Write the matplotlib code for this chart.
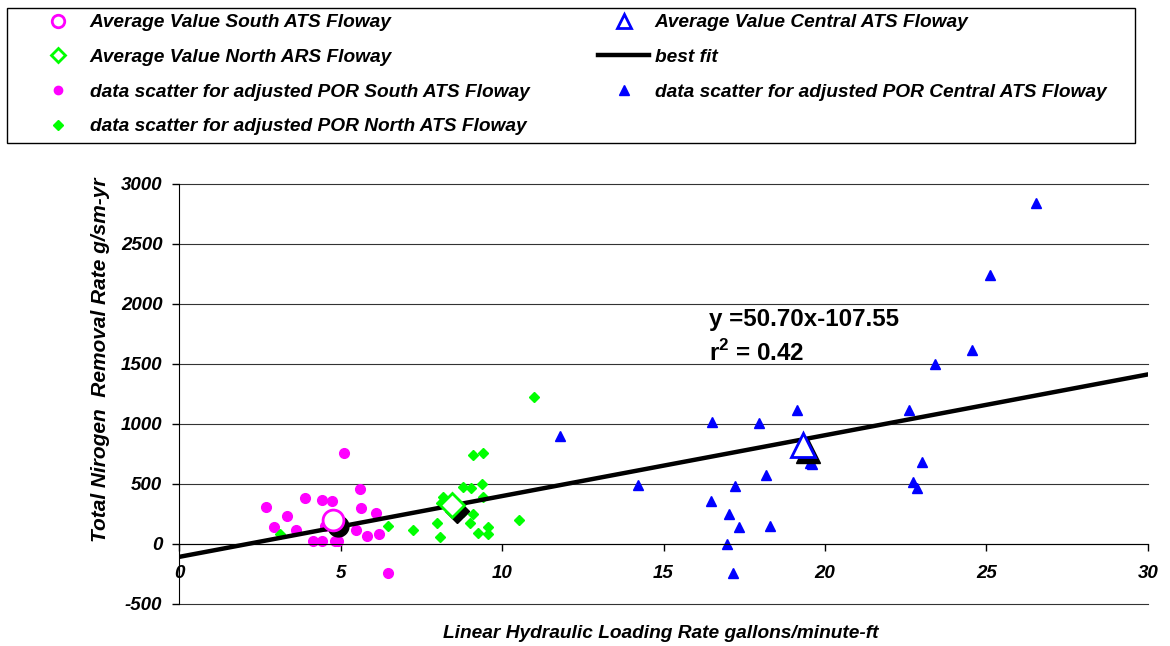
import matplotlib
matplotlib.use("Agg")
import matplotlib.pyplot as plt
from matplotlib.lines import Line2D
from matplotlib.patches import Rectangle
from matplotlib.transforms import offset_copy

plt.rcParams['font.family'] = ['Liberation Sans', 'DejaVu Sans']
plt.rcParams['mathtext.fontset'] = 'custom'
plt.rcParams['mathtext.bf'] = 'Liberation Sans:bold'
plt.rcParams['mathtext.rm'] = 'Liberation Sans:bold'
plt.rcParams['axes.unicode_minus'] = False

# data scatter, adjusted POR
south_x = [2.69, 2.95, 3.35, 3.61, 3.91, 4.14, 4.42, 4.44, 4.73, 4.52, 4.85,
           4.83, 4.93, 4.96, 5.11, 5.48, 5.61, 5.62, 5.83, 6.10, 6.20, 6.48]
south_y = [305, 139, 236, 114, 386, 28, 364, 25, 356, 153, 144,
           22, 22, 97, 761, 114, 456, 300, 67, 256, 83, -242]

north_x = [3.12, 4.76, 6.46, 7.24, 7.99, 8.09, 8.10, 8.18, 8.78, 8.80, 9.05,
           9.01, 9.09, 9.11, 9.25, 9.38, 9.40, 9.40, 9.58, 9.58, 10.53, 10.98]
north_y = [86, 200, 150, 114, 172, 61, 342, 394, 478, 264, 464,
           172, 739, 253, 94, 497, 756, 389, 142, 86, 203, 1228]

central_x = [11.79, 14.21, 16.49, 16.47, 16.98, 17.04, 17.22, 17.34, 17.14,
             17.97, 18.17, 18.31, 19.12, 19.54, 19.60, 22.60, 22.99, 22.71,
             22.84, 23.41, 24.56, 25.12, 26.52]
central_y = [900, 494, 1019, 356, 0, 247, 483, 142, -239,
             1011, 578, 153, 1114, 678, 670, 1114, 681, 519,
             469, 1503, 1614, 2239, 2839]

# average values
avg_south = (4.78, 200)
avg_north = (8.44, 325)
avg_central = (19.33, 822)

slope, intercept = 50.70, -107.55
fit_x = [0, 30]
fit_y = [slope * v + intercept for v in fit_x]

MAGENTA = '#FF00FF'
GREEN = '#00FF00'
BLUE = '#0000FF'

fig = plt.figure(figsize=(11.7, 6.46), dpi=100)
ax = fig.add_axes([179 / 1170, 1 - 604 / 646, 969 / 1170, 420 / 646])

ax.set_xlim(0, 30)
ax.set_ylim(-500, 3000)
ax.set_xticks(range(0, 31, 5))
ax.set_yticks(range(-500, 3001, 500))
ax.yaxis.grid(True, color='#333333', lw=0.8)
for gl in ax.yaxis.get_gridlines():
    gl.set_clip_on(False)
ax.set_axisbelow(True)
ax.spines['top'].set_visible(False)
ax.spines['right'].set_visible(False)
ax.spines['bottom'].set_position(('data', 0))
ax.tick_params(direction='out', length=5, width=1, labelsize=13.5)
ax.tick_params(axis='x', pad=10)
ax.tick_params(axis='y', pad=7)
for lab in ax.get_xticklabels() + ax.get_yticklabels():
    lab.set_fontweight('bold')
    lab.set_fontstyle('italic')

ax.plot(south_x, south_y, 'o', color=MAGENTA, ms=7, zorder=2)
ax.plot(north_x, north_y, 'D', color=GREEN, ms=5.5, zorder=2)
ax.plot(central_x, central_y, '^', color=BLUE, ms=7.5, zorder=2)

ax.plot(fit_x, fit_y, color='black', lw=3.2, zorder=3, solid_capstyle='round')

# averages with a dark shadow
shadow = offset_copy(ax.transData, fig=fig, x=5, y=-6, units='dots')
avgs = [(avg_south, 'o', MAGENTA, 15), (avg_north, 'D', GREEN, 12),
        (avg_central, '^', BLUE, 17)]
for (px, py), mk, col, ms in avgs:
    ax.plot([px], [py], mk, color='black', ms=ms, zorder=4, transform=shadow)
    ax.plot([px], [py], mk, mfc='white', mec=col, mew=2, ms=ms, zorder=5)

fig.text(709 / 1170, 1 - 326 / 646, 'y =50.70x-107.55', fontsize=17.4,
         fontweight='bold', va='baseline', ha='left')
fig.text(709 / 1170, 1 - 361 / 646, r'r$^{\mathbf{2}}$ = 0.42', fontsize=17.4,
         fontweight='bold', va='baseline', ha='left')

fig.text(101 / 1170, 1 - 360 / 646, 'Total Nirogen  Removal Rate g/sm-yr',
         rotation=90, ha='center', va='center', fontsize=15,
         fontweight='bold', fontstyle='italic')
fig.text(661 / 1170, 1 - 633 / 646,
         'Linear Hydraulic Loading Rate gallons/minute-ft',
         ha='center', va='center', fontsize=13.8,
         fontweight='bold', fontstyle='italic')

# legend
handles = [
    Line2D([], [], ls='none', marker='o', mfc='white', mec=MAGENTA, mew=2, ms=9),
    Line2D([], [], ls='none', marker='D', mfc='white', mec=GREEN, mew=2, ms=7),
    Line2D([], [], ls='none', marker='o', color=MAGENTA, ms=6),
    Line2D([], [], ls='none', marker='D', color=GREEN, ms=5),
    Line2D([], [], ls='none', marker='^', mfc='white', mec=BLUE, mew=2, ms=10),
    Line2D([], [], color='black', lw=3.2),
    Line2D([], [], ls='none', marker='^', color=BLUE, ms=7),
]
labels = [
    'Average Value South ATS Floway',
    'Average Value North ARS Floway',
    'data scatter for adjusted POR South ATS Floway',
    'data scatter for adjusted POR North ATS Floway',
    'Average Value Central ATS Floway',
    'best fit',
    'data scatter for adjusted POR Central ATS Floway',
]
leg = fig.legend(handles, labels, ncol=2, loc='upper left',
                 bbox_to_anchor=(33 / 1170, 1 - 14 / 646), frameon=False,
                 borderpad=0, borderaxespad=0, handlelength=2.65,
                 handletextpad=0.3, columnspacing=3.6, labelspacing=0.9,
                 prop={'size': 13.8, 'weight': 'bold', 'style': 'italic'})

fig.patches.append(Rectangle((7 / 1170, 1 - 143 / 646), 1128 / 1170, 135 / 646,
                             transform=fig.transFigure, fill=False,
                             edgecolor='black', lw=1))

fig.savefig('out.png', dpi=100)
